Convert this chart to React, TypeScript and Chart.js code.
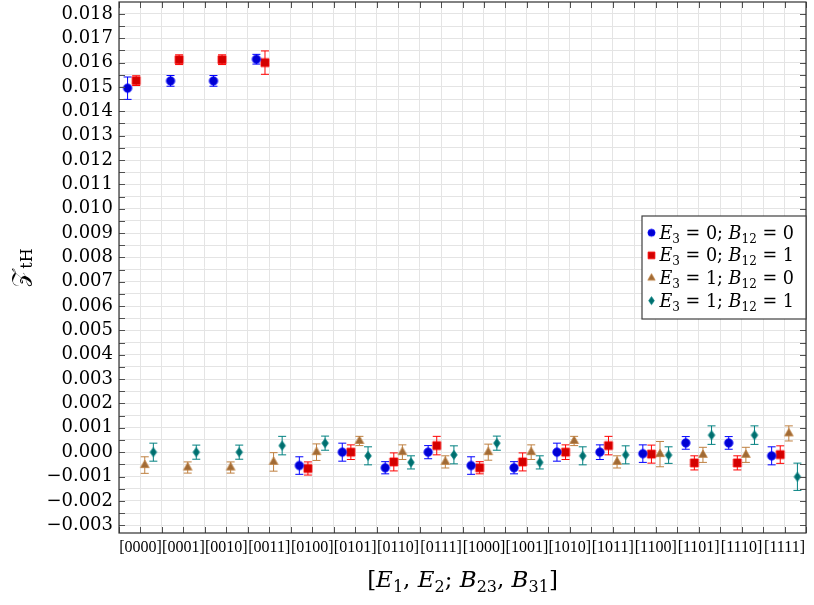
import React, { useEffect, useRef } from 'react';
import { Chart, registerables } from 'chart.js';

Chart.register(...registerables);

// ---------- data ----------
const categories = [
  '[0000]', '[0001]', '[0010]', '[0011]', '[0100]', '[0101]', '[0110]', '[0111]',
  '[1000]', '[1001]', '[1010]', '[1011]', '[1100]', '[1101]', '[1110]', '[1111]',
];

// E3 = 0; B12 = 0
const e0b0Values = [0.01495, 0.01525, 0.01525, 0.01614, -0.00055, 0.0, -0.00064, 0.0, -0.00055, -0.00064, 0.0, 0.0, -0.00006, 0.00038, 0.00038, -0.00015];
const e0b0Errors = [0.00046, 0.00022, 0.00022, 0.0002, 0.00036, 0.00037, 0.00025, 0.00027, 0.00036, 0.00025, 0.00037, 0.0003, 0.00036, 0.00026, 0.00026, 0.00037];
// E3 = 0; B12 = 1
const e0b1Values = [0.01526, 0.01612, 0.01612, 0.016, -0.00067, 0.0, -0.0004, 0.00027, -0.00064, -0.0004, 0.0, 0.00027, -0.00008, -0.00044, -0.00044, -0.0001];
const e0b1Errors = [0.0002, 0.0002, 0.0002, 0.00048, 0.00027, 0.0003, 0.00037, 0.00038, 0.00025, 0.00037, 0.0003, 0.00038, 0.00037, 0.00029, 0.00029, 0.00036];
// E3 = 1; B12 = 0
const e1b0Values = [-0.00053, -0.00063, -0.00063, -0.0004, 0.0, 0.00046, 0.0, -0.0004, 0.0, 0.0, 0.00046, -0.0004, -0.00008, -0.00011, -0.00011, 0.00077];
const e1b0Errors = [0.00034, 0.00023, 0.00023, 0.00038, 0.00034, 0.00019, 0.0003, 0.00025, 0.00033, 0.0003, 0.00019, 0.00025, 0.00052, 0.00031, 0.00031, 0.00031];
// E3 = 1; B12 = 1
const e1b1Values = [0.0, 0.0, 0.0, 0.00027, 0.00037, -0.00015, -0.00042, -0.00011, 0.00037, -0.00042, -0.00015, -0.00011, -0.00012, 0.0007, 0.0007, -0.00101];
const e1b1Errors = [0.00037, 0.00029, 0.00029, 0.00038, 0.00029, 0.00037, 0.00027, 0.00037, 0.00029, 0.00027, 0.00037, 0.00037, 0.00034, 0.00038, 0.00038, 0.00056];

const yMajorTicks = [-0.003, -0.002, -0.001, 0.0, 0.001, 0.002, 0.003, 0.004, 0.005, 0.006, 0.007, 0.008, 0.009, 0.01, 0.011, 0.012, 0.013, 0.014, 0.015, 0.016, 0.017, 0.018];
const Y_MIN = -0.00332;
const Y_MAX = 0.01849;

// ---------- styles ----------
const FONT = '"DejaVu Serif", serif';
const XFONT = '"Liberation Serif", serif';
type Kind = 'circle' | 'square' | 'triangle' | 'diamond';
interface Series {
  e3: string; b12: string; values: number[]; errors: number[];
  kind: Kind; fill: string; stroke: string; offset: number;
}
const series: Series[] = [
  { e3: '0', b12: '0', values: e0b0Values, errors: e0b0Errors, kind: 'circle', fill: 'rgb(0,0,210)', stroke: 'rgb(0,0,255)', offset: -0.3 },
  { e3: '0', b12: '1', values: e0b1Values, errors: e0b1Errors, kind: 'square', fill: 'rgb(210,0,0)', stroke: 'rgb(255,0,0)', offset: -0.1 },
  { e3: '1', b12: '0', values: e1b0Values, errors: e1b0Errors, kind: 'triangle', fill: 'rgb(160,106,53)', stroke: 'rgb(191,128,64)', offset: 0.1 },
  { e3: '1', b12: '1', values: e1b1Values, errors: e1b1Errors, kind: 'diamond', fill: 'rgb(0,110,110)', stroke: 'rgb(0,128,128)', offset: 0.3 },
];

function makeMarker(kind: Kind, fill: string, stroke: string, scale = 1): HTMLCanvasElement {
  const c = document.createElement('canvas');
  const S = Math.ceil(12 * scale);
  c.width = S; c.height = S;
  const ctx = c.getContext('2d')!;
  const cx = S / 2, cy = S / 2;
  ctx.fillStyle = fill; ctx.strokeStyle = stroke; ctx.lineWidth = 0.8;
  ctx.beginPath();
  if (kind === 'circle') {
    ctx.arc(cx, cy, 4.2 * scale, 0, Math.PI * 2);
  } else if (kind === 'square') {
    const h = 4 * scale;
    ctx.rect(cx - h, cy - h, 2 * h, 2 * h);
  } else if (kind === 'triangle') {
    const r = 5 * scale;
    ctx.moveTo(cx, cy - r);
    ctx.lineTo(cx + 0.866 * r, cy + 0.5 * r);
    ctx.lineTo(cx - 0.866 * r, cy + 0.5 * r);
    ctx.closePath();
  } else {
    const w = 3.3 * scale, h = 4.6 * scale;
    ctx.moveTo(cx, cy - h);
    ctx.lineTo(cx + w, cy);
    ctx.lineTo(cx, cy + h);
    ctx.lineTo(cx - w, cy);
    ctx.closePath();
  }
  ctx.fill();
  ctx.stroke();
  return c;
}

type Seg = { t: string; it?: boolean; sub?: boolean };
function segFont(s: Seg, size: number) {
  const sz = s.sub ? Math.round(size * 0.7) : size;
  return `${s.it ? 'italic ' : ''}${sz}px ${FONT}`;
}
function drawRich(ctx: CanvasRenderingContext2D, segs: Seg[], x: number, y: number, size: number, align: 'left' | 'center') {
  let total = 0;
  const widths = segs.map((s) => { ctx.font = segFont(s, size); const w = ctx.measureText(s.t).width; total += w; return w; });
  let cx = align === 'center' ? x - total / 2 : x;
  ctx.textBaseline = 'alphabetic';
  ctx.textAlign = 'left';
  segs.forEach((s, i) => {
    ctx.font = segFont(s, size);
    ctx.fillText(s.t, cx, s.sub ? y + size * 0.22 : y);
    cx += widths[i];
  });
}

export default function App() {
  const ref = useRef<HTMLCanvasElement>(null);
  useEffect(() => {
    if (!ref.current) return;
    const markers = series.map((s) => makeMarker(s.kind, s.fill, s.stroke));
    const legendMarkers = series.map((s) => makeMarker(s.kind, s.fill, s.stroke, 0.85));

    const xTicks: number[] = [];
    categories.forEach((_, i) => { xTicks.push(i - 0.5); xTicks.push(i); });
    xTicks.push(categories.length - 0.5);
    const yTicks: number[] = [];
    yMajorTicks.forEach((v, i) => { yTicks.push(v); if (i < yMajorTicks.length - 1) yTicks.push((v + yMajorTicks[i + 1]) / 2); });

    const overlay = {
      id: 'overlay',
      beforeDatasetsDraw(chart: any) {
        const ctx = chart.ctx as CanvasRenderingContext2D;
        const ys = chart.scales.y;
        ctx.save();
        chart.data.datasets.forEach((_: any, di: number) => {
          const meta = chart.getDatasetMeta(di);
          const s = series[di];
          ctx.strokeStyle = s.stroke;
          ctx.lineWidth = 1;
          meta.data.forEach((pt: any, i: number) => {
            const v = s.values[i], e = s.errors[i];
            const x = pt.x;
            const y1 = ys.getPixelForValue(v + e), y2 = ys.getPixelForValue(v - e);
            ctx.beginPath();
            ctx.moveTo(x, y1); ctx.lineTo(x, y2);
            ctx.moveTo(x - 4, y1); ctx.lineTo(x + 4, y1);
            ctx.moveTo(x - 4, y2); ctx.lineTo(x + 4, y2);
            ctx.stroke();
          });
        });
        ctx.restore();
      },
      afterDraw(chart: any) {
        const ctx = chart.ctx as CanvasRenderingContext2D;
        const ca = chart.chartArea;
        const xs = chart.scales.x, ys = chart.scales.y;
        ctx.save();
        // inward ticks
        ctx.strokeStyle = '#505050';
        ctx.lineWidth = 1;
        ctx.beginPath();
        ys.ticks.forEach((t: any) => {
          const py = Math.round(ys.getPixelForValue(t.value)) + 0.5;
          ctx.moveTo(ca.left, py); ctx.lineTo(ca.left + 6, py);
          ctx.moveTo(ca.right, py); ctx.lineTo(ca.right - 6, py);
        });
        xs.ticks.forEach((t: any) => {
          const px = Math.round(xs.getPixelForValue(t.value)) + 0.5;
          ctx.moveTo(px, ca.bottom); ctx.lineTo(px, ca.bottom - 6);
          ctx.moveTo(px, ca.top); ctx.lineTo(px, ca.top + 6);
        });
        ctx.stroke();
        // frame
        ctx.strokeStyle = '#303030';
        ctx.lineWidth = 1.2;
        ctx.strokeRect(ca.left, ca.top, ca.right - ca.left, ca.bottom - ca.top);

        // legend
        const lw = 164, lh = 103;
        const lx = ca.right - lw;
        const ly = (ca.top + ca.bottom) / 2 - lh / 2;
        ctx.fillStyle = '#fff';
        ctx.fillRect(lx, ly, lw, lh);
        ctx.strokeStyle = '#404040';
        ctx.lineWidth = 1.2;
        ctx.strokeRect(lx, ly, lw, lh);
        ctx.fillStyle = '#000';
        series.forEach((s, k) => {
          const cy = ly + 16.7 + k * 22.65;
          const m = legendMarkers[k];
          ctx.drawImage(m, lx + 9.5 - m.width / 2, cy - m.height / 2);
          drawRich(ctx, [
            { t: 'E', it: true }, { t: '3', sub: true }, { t: ' = ' + s.e3 + '; ' },
            { t: 'B', it: true }, { t: '12', sub: true }, { t: ' = ' + s.b12 },
          ], lx + 17.5, cy + 6, 17.6, 'left');
        });

        // x title
        const cxm = (ca.left + ca.right) / 2;
        drawRich(ctx, [
          { t: '[' }, { t: 'E', it: true }, { t: '1', sub: true }, { t: ', ' },
          { t: 'E', it: true }, { t: '2', sub: true }, { t: '; ' },
          { t: 'B', it: true }, { t: '23', sub: true }, { t: ', ' },
          { t: 'B', it: true }, { t: '31', sub: true }, { t: ']' },
        ], cxm, 587, 23, 'center');

        // y title
        ctx.translate(27, (ca.top + ca.bottom) / 2);
        ctx.rotate(-Math.PI / 2);
        drawRich(ctx, [{ t: '\u{1D4B5}' }, { t: 'tH', sub: true }], 0, 0, 23, 'center');
        ctx.restore();
      },
    };

    const chart = new Chart(ref.current, {
      type: 'scatter',
      data: {
        datasets: series.map((s, k) => ({
          label: `E3 = ${s.e3}; B12 = ${s.b12}`,
          data: s.values.map((v, i) => ({ x: i + s.offset, y: v })),
          pointStyle: markers[k] as any,
          pointRadius: 5,
          showLine: false,
        })),
      },
      options: {
        responsive: false,
        animation: false,
        events: [],
        layout: { autoPadding: false, padding: { top: 2, right: 8, bottom: 0, left: 0 } },
        plugins: { legend: { display: false }, tooltip: { enabled: false }, title: { display: false } },
        scales: {
          x: {
            type: 'linear',
            min: -0.5,
            max: categories.length - 0.5,
            afterBuildTicks: (scale: any) => { scale.ticks = xTicks.map((v) => ({ value: v })); },
            afterFit: (scale: any) => { scale.height = 72; scale.paddingLeft = 0; scale.paddingRight = 0; },
            grid: { color: '#e4e4e4', lineWidth: 1, drawTicks: false },
            border: { display: false },
            ticks: {
              autoSkip: false,
              maxRotation: 0,
              minRotation: 0,
              padding: 5,
              color: '#000',
              font: { family: XFONT, size: 16 },
              callback: (v: any) => (Number.isInteger(v) ? categories[v] : ''),
            },
          },
          y: {
            type: 'linear',
            min: Y_MIN,
            max: Y_MAX,
            afterBuildTicks: (scale: any) => { scale.ticks = yTicks.map((v) => ({ value: v })); },
            afterFit: (scale: any) => { scale.width = 119; scale.paddingTop = 0; scale.paddingBottom = 0; },
            grid: { color: '#e4e4e4', lineWidth: 1, drawTicks: false },
            border: { display: false },
            ticks: {
              autoSkip: false,
              padding: 6,
              color: '#000',
              font: { family: FONT, size: 18 },
              callback: (v: any) => {
                const k = Math.round(v / 0.0005);
                if (k % 2 !== 0) return '';
                const s = (k * 0.0005).toFixed(3);
                return s.replace('-', '\u2212');
              },
            },
          },
        },
      },
      plugins: [overlay],
    });
    return () => chart.destroy();
  }, []);

  return (
    <div style={{ position: 'fixed', left: 0, top: 0, width: 814, height: 605, background: '#fff' }}>
      <canvas ref={ref} width={814} height={605} style={{ display: 'block' }} />
    </div>
  );
}
